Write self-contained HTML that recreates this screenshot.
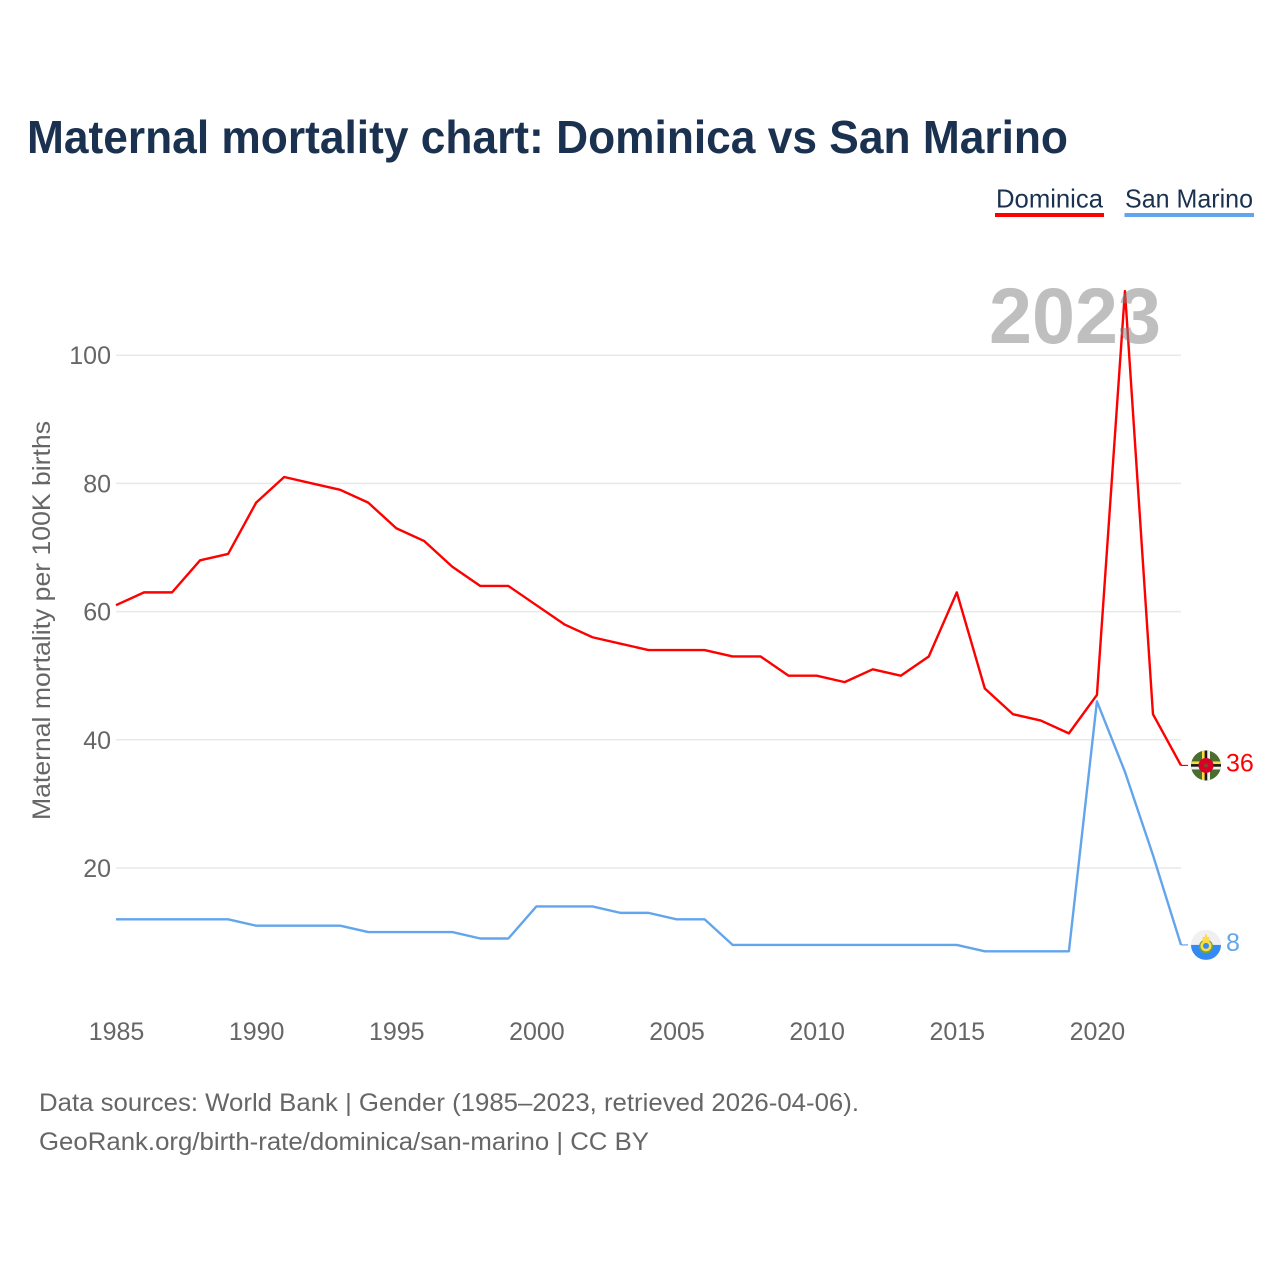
<!DOCTYPE html>
<html lang="en">
<head>
<meta charset="utf-8">
<title>Maternal mortality chart: Dominica vs San Marino</title>
<style>
html,body{margin:0;padding:0;background:#fff;}
svg{display:block;font-family:"Liberation Sans",sans-serif;}
</style>
</head>
<body>
<svg id="chart" xmlns="http://www.w3.org/2000/svg" width="1280" height="1280" viewBox="0 0 1280 1280">
  <defs>
    <clipPath id="clip-dm"><circle cx="0" cy="0" r="15"/></clipPath>
    <clipPath id="clip-sm"><circle cx="0" cy="0" r="15"/></clipPath>
  </defs>
  <rect width="1280" height="1280" fill="#fff"/>
  <text x="27" y="153" font-size="46" font-weight="700" fill="#1a3150" textLength="1041" lengthAdjust="spacingAndGlyphs">Maternal mortality chart: Dominica vs San Marino</text>

  <g>
    <g>
      <text x="996" y="207.5" font-size="26" fill="#1a3150" textLength="107" lengthAdjust="spacingAndGlyphs">Dominica</text>
      <rect x="995" y="213" width="109" height="4" fill="#ff0000"/>
    </g>
    <g>
      <text x="1125" y="207.5" font-size="26" fill="#1a3150" textLength="128" lengthAdjust="spacingAndGlyphs">San Marino</text>
      <rect x="1124.5" y="213" width="129.5" height="4" fill="#63a5ec"/>
    </g>
  </g>

  <g id="grid"></g>
  <g id="y-axis"></g>
  <g id="x-axis"></g>
  <text transform="translate(50,820) rotate(-90)" font-size="25" fill="#666" textLength="399" lengthAdjust="spacingAndGlyphs">Maternal mortality per 100K births</text>

  <g id="series"></g>

  <text x="989" y="343" font-size="79" font-weight="700" fill="#808080" fill-opacity="0.5" textLength="172" lengthAdjust="spacingAndGlyphs">2023</text>

  <g id="flag-dominica">
    <g clip-path="url(#clip-dm)">
      <rect x="-15" y="-15" width="30" height="30" fill="#496e2d"/>
      <rect x="-15" y="-4" width="30" height="2.7" fill="#ffda44"/>
      <rect x="-15" y="-1.3" width="30" height="2.6" fill="#1a1a1a"/>
      <rect x="-15" y="1.3" width="30" height="2.7" fill="#f0f0f0"/>
      <rect x="-4" y="-15" width="2.7" height="30" fill="#ffda44"/>
      <rect x="-1.3" y="-15" width="2.6" height="30" fill="#1a1a1a"/>
      <rect x="1.3" y="-15" width="2.7" height="30" fill="#f0f0f0"/>
      <circle r="7.5" fill="#d80027"/>
      <circle r="2" fill="#7a4a2d"/>
    </g>
  </g>
  <g id="flag-san-marino">
    <g clip-path="url(#clip-sm)">
      <rect x="-15" y="-15" width="30" height="30" fill="#f0f0f0"/>
      <rect x="-15" y="0" width="30" height="15" fill="#338af3"/>
      <circle r="7" cy="1.5" fill="#6da544"/>
      <circle r="5.5" cy="1" fill="#ffda44"/>
      <circle r="3" cy="1" fill="#338af3"/>
      <rect x="-3.5" y="-8" width="7" height="4.5" fill="#ffda44"/>
      <rect x="-1" y="-10.5" width="2" height="3" fill="#ffda44"/>
    </g>
  </g>

  <g>
    <text x="39" y="1111" font-size="25" fill="#666" textLength="820" lengthAdjust="spacingAndGlyphs">Data sources: World Bank | Gender (1985–2023, retrieved 2026-04-06).</text>
    <text x="39" y="1150" font-size="25" fill="#666" textLength="610" lengthAdjust="spacingAndGlyphs">GeoRank.org/birth-rate/dominica/san-marino | CC BY</text>
  </g>
</svg>
<script>
var years = [1985,1986,1987,1988,1989,1990,1991,1992,1993,1994,1995,1996,1997,1998,1999,2000,2001,2002,2003,2004,2005,2006,2007,2008,2009,2010,2011,2012,2013,2014,2015,2016,2017,2018,2019,2020,2021,2022,2023];
var dominicaValues = [61,63,63,68,69,77,81,80,79,77,73,71,67,64,64,61,58,56,55,54,54,54,53,53,50,50,49,51,50,53,63,48,44,43,41,47,110,44,36];
var sanMarinoValues = [12,12,12,12,12,11,11,11,11,10,10,10,10,9,9,14,14,14,13,13,12,12,8,8,8,8,8,8,8,8,8,7,7,7,7,46,35,22,8];
var yTicks = [20,40,60,80,100];
var xTicks = [1985,1990,1995,2000,2005,2010,2015,2020];

var NS = 'http://www.w3.org/2000/svg';
function xScale(year){ return 116 + (year - 1985) * (1181 - 116) / (2023 - 1985); }
function yScale(v){ return 996.2 - v * 6.41; }
function make(tag, attrs, parent, txt){
  var el = document.createElementNS(NS, tag);
  for (var k in attrs) el.setAttribute(k, attrs[k]);
  if (txt !== undefined) el.textContent = txt;
  parent.appendChild(el);
  return el;
}
var grid = document.getElementById('grid');
var yAxis = document.getElementById('y-axis');
var xAxis = document.getElementById('x-axis');
var series = document.getElementById('series');

yTicks.forEach(function(t){
  var line = make('line', {x1:116, x2:1181, y1:yScale(t), y2:yScale(t), stroke:'#e9e9e9', 'stroke-width':1.5}, grid);
  
  
  var label = make('text', {x:111, y:yScale(t)+9, 'text-anchor':'end', 'font-size':25, fill:'#666'}, yAxis, String(t));
  
  
});
xTicks.forEach(function(t){
  var label = make('text', {x:xScale(t)+0.5, y:1040, 'text-anchor':'middle', 'font-size':25, fill:'#666'}, xAxis, String(t));
  
  
});
function drawSeries(values, color, name, flagId){
  var pts = values.map(function(v, i){ return xScale(years[i]).toFixed(2) + ',' + yScale(v).toFixed(2); });
  var lastY = yScale(values[values.length - 1]);
  var line = make('polyline', {points:pts.join(' '), fill:'none', stroke:color, 'stroke-width':2.4, 'stroke-linejoin':'round'}, series);
  
  
  var stub = make('line', {x1:xScale(years[years.length - 1]), x2:1188, y1:lastY, y2:lastY, stroke:color, 'stroke-width':1.2}, series);
  
  
  var label = make('text', {x:1226, y:lastY+6, 'font-size':25, fill:color}, series, String(values[values.length - 1]));
  
  
  document.getElementById(flagId).setAttribute('transform', 'translate(1206,' + lastY + ')');
}
drawSeries(dominicaValues, '#ff0000', 'dominica', 'flag-dominica');
drawSeries(sanMarinoValues, '#63a5ec', 'san-marino', 'flag-san-marino');
</script>
</body>
</html>
